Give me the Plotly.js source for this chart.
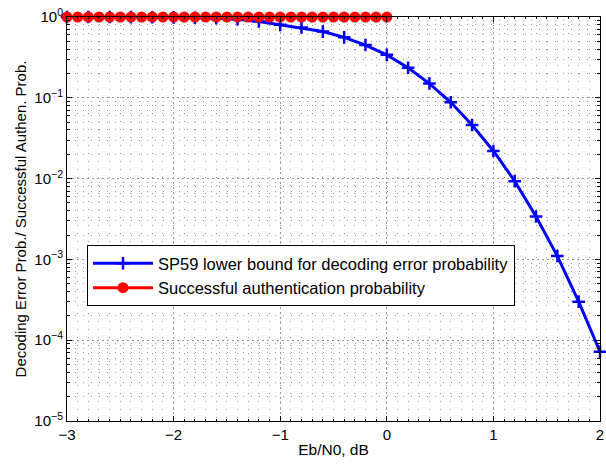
<!DOCTYPE html>
<html>
<head>
<meta charset="utf-8">
<script src="https://cdn.plot.ly/plotly-3.0.1.min.js"></script>
<style>html,body{margin:0;padding:0;background:#fff;}#plot{width:606px;height:465px;}</style>
</head>
<body>
<div id="plot"></div>
<script>
// Data
const sp59X = [-3,-2.8,-2.6,-2.4,-2.2,-2,-1.8,-1.6,-1.4,-1.2,-1,-0.8,-0.6,-0.4,-0.2,0,0.2,0.4,0.6,0.8,1,1.2,1.4,1.6,1.8,2];
const sp59Y = [0.999,0.999,0.998,0.997,0.995,0.99,0.98,0.965,0.94,0.88,0.80,0.74,0.66,0.56,0.45,0.34,0.235,0.15,0.088,0.046,0.022,0.0093,0.0034,0.0011,0.0003,0.000072];
const authX = [-3,-2.9,-2.8,-2.7,-2.6,-2.5,-2.4,-2.3,-2.2,-2.1,-2,-1.9,-1.8,-1.7,-1.6,-1.5,-1.4,-1.3,-1.2,-1.1,-1,-0.9,-0.8,-0.7,-0.6,-0.5,-0.4,-0.3,-0.2,-0.1,0];
const authY = [1,1,1,1,1,1,1,1,1,1,1,1,1,1,1,1,1,1,1,1,1,1,1,1,1,1,1,1,1,1,1];
const yTickVals = [1e-5,1e-4,1e-3,1e-2,1e-1,1];
const yTickText = ['10<sup>−5</sup>','10<sup>−4</sup>','10<sup>−3</sup>','10<sup>−2</sup>','10<sup>−1</sup>','10<sup>0</sup>'];
const xTickVals = [-3,-2,-1,0,1,2];
const xTickText = ['−3','−2','−1','0','1','2'];
const sp59Name = 'SP59 lower bound for decoding error probability';
const authName = 'Successful authentication probability';

const yMinor = [];
for (let e = -5; e < 0; e++) for (let d = 2; d <= 9; d++) yMinor.push(d * Math.pow(10, e));

const font = 'Liberation Sans, Arial, Helvetica, sans-serif';

const traces = [
  {x: sp59X, y: sp59Y, name: sp59Name, mode: 'lines+markers', type: 'scatter',
   line: {color: '#0000ff', width: 3},
   marker: {symbol: 'cross-thin', size: 9, line: {color: '#0000ff', width: 2.5}, color: '#0000ff'},
   cliponaxis: false},
  {x: authX, y: authY, name: authName, mode: 'lines+markers', type: 'scatter',
   line: {color: '#ff0000', width: 3},
   marker: {symbol: 'circle', size: 11, color: '#ff0000'},
   cliponaxis: false}
];

const layout = {
  width: 606, height: 465,
  margin: {l: 67, r: 6, t: 17, b: 44},
  paper_bgcolor: '#fff', plot_bgcolor: '#fff',
  font: {family: font, size: 15, color: '#000'},
  showlegend: true,
  legend: {x: 0.0375, y: 0.4356, xanchor: 'left', yanchor: 'top',
           bgcolor: '#fff', bordercolor: '#000', borderwidth: 1,
           font: {family: font, size: 16.5, color: '#000'},
           tracegroupgap: 0, itemwidth: 60},
  xaxis: {
    range: [-3, 2], tickvals: xTickVals, ticktext: xTickText,
    showline: true, linecolor: '#000', linewidth: 1, mirror: 'ticks',
    ticks: 'inside', ticklen: 5, tickcolor: '#000',
    showgrid: true, gridcolor: '#999', griddash: '2px,3px', gridwidth: 1,
    zeroline: false,
    tickfont: {family: font, size: 15},
    minor: {dtick: 0.1, showgrid: true, gridcolor: '#999', griddash: '1px,7px', gridwidth: 1,
            ticks: 'inside', ticklen: 2, tickcolor: '#000'},
    title: {text: 'Eb/N0, dB', font: {family: font, size: 15.5}, standoff: 2}
  },
  yaxis: {
    type: 'log', range: [-5, 0], tickvals: yTickVals, ticktext: yTickText,
    showline: true, linecolor: '#000', linewidth: 1, mirror: 'ticks',
    ticks: 'inside', ticklen: 5, tickcolor: '#000',
    showgrid: true, gridcolor: '#999', griddash: '2px,3px', gridwidth: 1,
    zeroline: false,
    tickfont: {family: font, size: 15},
    minor: {tickvals: yMinor, showgrid: true, gridcolor: '#999', griddash: '1px,7px', gridwidth: 1,
            ticks: 'inside', ticklen: 3, tickcolor: '#000'},
    title: {text: 'Decoding Error Prob./ Successful Authen. Prob.', font: {family: font, size: 15}, standoff: 4}
  }
};

Plotly.newPlot('plot', traces, layout, {displayModeBar: false, staticPlot: true});
</script>
</body>
</html>
